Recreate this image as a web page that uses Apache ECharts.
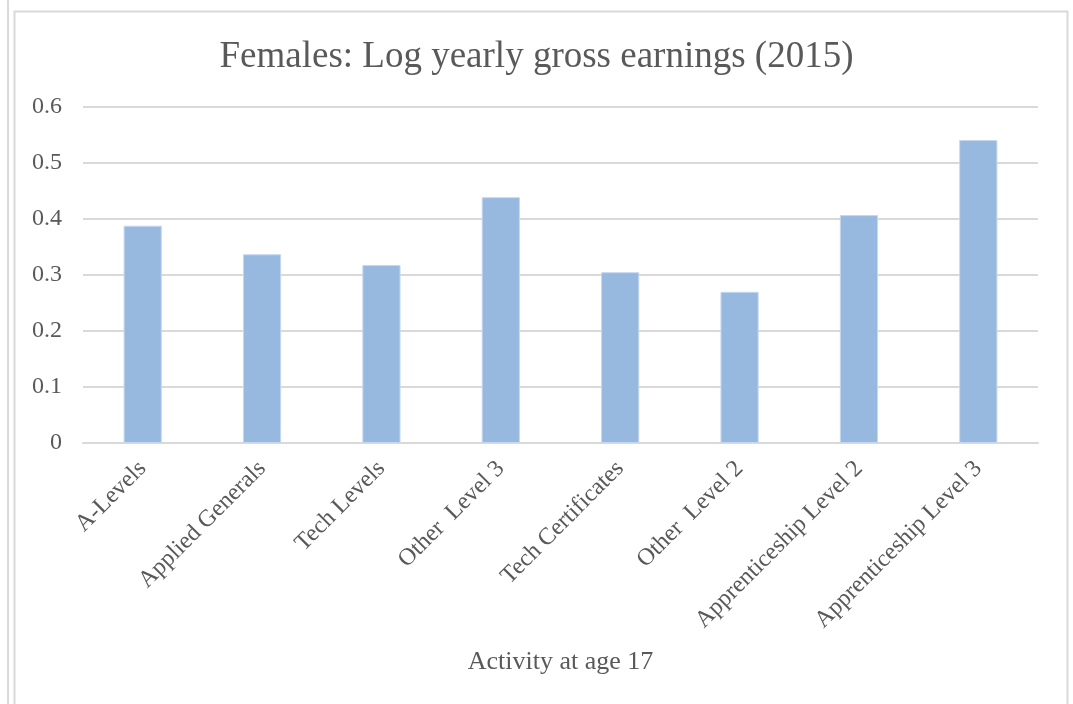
<!DOCTYPE html>
<html>
<head>
<meta charset="utf-8">
<script src="https://cdn.jsdelivr.net/npm/echarts@6/dist/echarts.min.js"></script>
<style>
  html, body { margin: 0; padding: 0; background: #fff; }
  #main { width: 1073px; height: 704px; }
</style>
</head>
<body>
<div id="main"></div>
<script>
// categories and values
var categories = ['A-Levels', 'Applied Generals', 'Tech Levels', 'Other  Level 3',
  'Tech Certificates', 'Other  Level 2', 'Apprenticeship Level 2', 'Apprenticeship Level 3'];
var earnings = [0.388, 0.337, 0.318, 0.439, 0.305, 0.270, 0.407, 0.541];
var yTicks = [0, 0.1, 0.2, 0.3, 0.4, 0.5, 0.6];

var serif = '"Times New Roman", "Liberation Serif", serif';
var textColor = '#595959';

var chart = echarts.init(document.getElementById('main'), null, { renderer: 'canvas' });

var option = {
  animation: false,
  backgroundColor: '#fff',
  textStyle: { fontFamily: serif },
  title: {
    text: 'Females: Log yearly gross earnings (2015)',
    left: 'center',
    top: 34,
    textStyle: { fontFamily: serif, fontSize: 37, fontWeight: 'normal', color: textColor }
  },
  grid: {
    left: 83,
    right: 35,
    top: 107,
    bottom: 261
  },
  // chart frame lines
  graphic: [
    {
      type: 'rect',
      shape: { x: 14.5, y: 11.5, width: 1053, height: 720 },
      style: { fill: null, stroke: '#d9d9d9', lineWidth: 2 },
      silent: true
    },
    {
      type: 'line',
      shape: { x1: 8, y1: 0, x2: 8, y2: 704 },
      style: { stroke: '#d9d9d9', lineWidth: 2 },
      silent: true
    }
  ],
  xAxis: {
    type: 'category',
    data: categories,
    name: 'Activity at age 17',
    nameLocation: 'middle',
    nameGap: 206,
    nameTextStyle: { fontFamily: serif, fontSize: 26, color: textColor },
    axisLine: { lineStyle: { color: '#d9d9d9', width: 2 } },
    axisTick: { show: false },
    axisLabel: {
      rotate: 45,
      interval: 0,
      margin: 22,
      fontFamily: serif,
      fontSize: 24,
      color: textColor
    }
  },
  yAxis: {
    type: 'value',
    min: yTicks[0],
    max: yTicks[yTicks.length - 1],
    interval: 0.1,
    axisLine: { show: false },
    axisTick: { show: false },
    splitLine: { lineStyle: { color: '#d9d9d9', width: 2 } },
    axisLabel: {
      margin: 21,
      fontFamily: serif,
      fontSize: 24,
      color: textColor,
      formatter: function (v) { return String(Math.round(v * 10) / 10); }
    }
  },
  series: [{
    type: 'bar',
    data: earnings,
    barWidth: '32%',
    itemStyle: { color: '#97b8df', borderColor: '#c5d8ef', borderWidth: 1 }
  }]
};

chart.setOption(option);
</script>
</body>
</html>
